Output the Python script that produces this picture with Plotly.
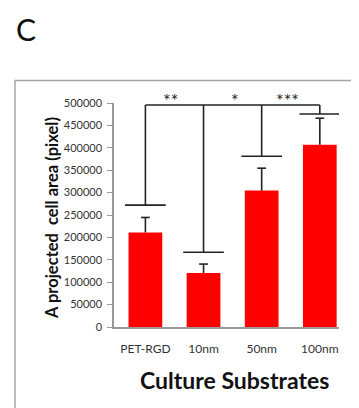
import plotly.graph_objects as go

categories = ["PET-RGD", "10nm", "50nm", "100nm"]
means = [211000, 120500, 304500, 407000]
err_upper = [33500, 20000, 50000, 59000]

# significance bracket: common top line and drop levels per category
bracket_top = 495500
bracket_drop = [272000, 167000, 381000, 475500]
star_labels = ["**", "*", "***"]
star_pos = [0.44, 1.54, 2.45]

xs = list(range(len(categories)))
FONT = "Lato"
DARK = "#222222"

W, H = 359, 408
ml, mr, mt, mb = 106, 28, 95, 89
pw, ph = W - ml - mr, H - mt - mb

def px_x(p):
    return (p - ml) / pw

def px_y(p):
    return (H - p - mb) / ph

fig = go.Figure()
fig.add_trace(go.Bar(
    x=xs, y=means, width=0.58,
    marker=dict(color="#FF0000", line=dict(width=0)),
    showlegend=False, hoverinfo="skip",
))

# upper error bars with caps
for xi, m, e in zip(xs, means, err_upper):
    fig.add_trace(go.Scatter(x=[xi, xi, None, xi - 0.075, xi + 0.075],
                             y=[m, m + e, None, m + e, m + e], mode="lines",
                             line=dict(color=DARK, width=1.6), showlegend=False,
                             hoverinfo="skip", cliponaxis=False))

# bracket: top horizontal line
fig.add_trace(go.Scatter(x=[xs[0], xs[-1]], y=[bracket_top, bracket_top], mode="lines",
                         line=dict(color=DARK, width=1.6), showlegend=False,
                         hoverinfo="skip", cliponaxis=False))
for xi, d in zip(xs, bracket_drop):
    fig.add_trace(go.Scatter(x=[xi, xi, None, xi - 0.35, xi + 0.35],
                             y=[bracket_top, d, None, d, d], mode="lines",
                             line=dict(color=DARK, width=1.6), showlegend=False,
                             hoverinfo="skip", cliponaxis=False))

for lab, px in zip(star_labels, star_pos):
    fig.add_annotation(x=px, xref="x", yref="paper", y=px_y(92), text=lab, showarrow=False,
                       font=dict(family=FONT, size=18, color=DARK),
                       xanchor="center", yanchor="middle")

# outer frame
fig.add_shape(type="rect", xref="paper", yref="paper",
              x0=px_x(7), x1=px_x(362), y0=px_y(420), y1=px_y(72.5),
              line=dict(color="#A6A6A6", width=1.5), fillcolor="rgba(0,0,0,0)", layer="below")

fig.add_annotation(xref="paper", yref="paper", x=px_x(6), y=px_y(21), text="C",
                   showarrow=False, xanchor="left", yanchor="middle",
                   font=dict(family=FONT, size=30, color="#111"))

fig.add_annotation(xref="paper", yref="paper", x=px_x(44), y=px_y(210),
                   text="<b>A projected  cell area (pixel)</b>", textangle=-90,
                   showarrow=False, xanchor="center", yanchor="middle",
                   font=dict(family=FONT, size=16.5, color="#111"))

fig.add_annotation(xref="paper", yref="paper", x=px_x(226), y=px_y(372),
                   text="<b>Culture Substrates</b>",
                   showarrow=False, xanchor="center", yanchor="middle",
                   font=dict(family=FONT, size=23, color="#111"))

fig.update_layout(
    width=W, height=H,
    margin=dict(l=ml, r=mr, t=mt, b=mb),
    paper_bgcolor="white", plot_bgcolor="white",
    font=dict(family=FONT, size=10, color="#333"),
    xaxis=dict(range=[-0.54, 3.33], tickvals=xs, ticktext=categories,
               showline=True, linecolor="#999999", linewidth=2, ticks="",
               showgrid=False, zeroline=False, tickfont=dict(size=12, color="#333"),
               ticklabelstandoff=10),
    yaxis=dict(range=[0, 500000], dtick=50000, tickformat="d",
               showline=True, linecolor="#999999", linewidth=1.5,
               ticks="outside", ticklen=5, tickcolor="#999999",
               showgrid=False, zeroline=False, tickfont=dict(size=11, color="#333"),
               ticklabelstandoff=3),
)

fig.write_html("out.html")
